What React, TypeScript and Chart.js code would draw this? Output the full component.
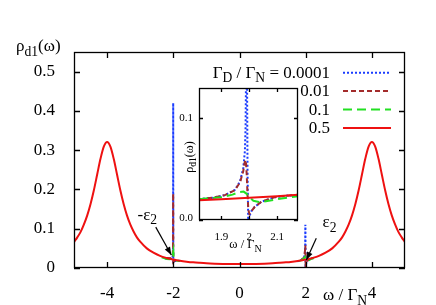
import React, { useEffect, useRef } from 'react';
import { Chart, registerables } from 'chart.js';
Chart.register(...registerables);

const SERIF = '"Liberation Serif", "Times New Roman", serif';

// ---- series styling order: [0.0001, 0.01, 0.1, 0.5]
const SERIES_LABELS = ['0.0001', '0.01', '0.1', '0.5'];
const SERIES_COLORS = ['#1a3cff', '#a32b2b', '#22e022', '#ee1111'];
const SERIES_DASH = [[2, 2], [5, 3], [9, 5], []];

// ---- main plot
const X_TICKS = [-4, -2, 0, 2, 4];
const X_TICK_LABELS = ['-4', '-2', '0', '2', '4'];
const Y_TICKS = [0, 0.1, 0.2, 0.3, 0.4, 0.5];
const Y_TICK_LABELS = ['0', '0.1', '0.2', '0.3', '0.4', '0.5'];

// Γ_D/Γ_N = 0.5 (full curve)
const MAIN_X = [
  -5, -4.9, -4.8, -4.7, -4.6, -4.5, -4.4, -4.3, -4.2, -4.1, -4,
  -3.9, -3.8, -3.7, -3.6, -3.5, -3.4, -3.3, -3.2, -3.1, -3,
  -2.8, -2.6, -2.4, -2.2, -2.1, -2, -1.9, -1.8, -1.6, -1.4, -1.2, -1,
  -0.75, -0.5, -0.25, 0,
  0.25, 0.5, 0.75, 1, 1.2, 1.4, 1.6, 1.8, 1.9, 2, 2.1, 2.2, 2.4, 2.6, 2.8,
  3, 3.1, 3.2, 3.3, 3.4, 3.5, 3.6, 3.7, 3.8, 3.9, 4,
  4.1, 4.2, 4.3, 4.4, 4.5, 4.6, 4.7, 4.8, 4.9, 5,
];
const RED_Y = [
  0.066, 0.078, 0.092, 0.111, 0.134, 0.163, 0.198, 0.238, 0.278, 0.309, 0.321,
  0.309, 0.278, 0.238, 0.198, 0.163, 0.134, 0.111, 0.093, 0.078, 0.067,
  0.050, 0.039, 0.031, 0.0255, 0.0233, 0.0214, 0.0198, 0.0184, 0.0162, 0.0144, 0.0131, 0.012,
  0.0111, 0.0105, 0.0102, 0.0100,
  0.0102, 0.0105, 0.0111, 0.012, 0.0131, 0.0144, 0.0162, 0.0184, 0.0198, 0.0214, 0.0233, 0.0255, 0.031, 0.039, 0.050,
  0.067, 0.078, 0.093, 0.111, 0.134, 0.163, 0.198, 0.238, 0.278, 0.309, 0.321,
  0.309, 0.278, 0.238, 0.198, 0.163, 0.134, 0.111, 0.092, 0.078, 0.066,
];

// other series: only the windows around ±ε2 (elsewhere they lie under the 0.5 curve)
const BLUE_X = [-2.25, -2.1, -2.03, -2.012, -2.006, -2.003, -2.0, -1.995, -1.98, -1.95, -1.85, -1.75, null,
  1.75, 1.85, 1.95, 1.975, 1.985, 1.99, 1.996, 2.005, 2.02, 2.06, 2.15, 2.25];
const BLUE_Y = [0.0245, 0.0235, 0.026, 0.032, 0.06, 0.42, 0.013, 0.014, 0.016, 0.018, 0.0182, 0.0172, null,
  0.017, 0.019, 0.027, 0.035, 0.06, 0.11, 0.0, 0.008, 0.014, 0.019, 0.0233, 0.026];

const DARK_X = [-2.2, -2.06, -2.02, -2.008, -2.004, -2.0, -1.99, -1.95, -1.85, null,
  1.85, 1.95, 1.98, 1.99, 1.998, 2.01, 2.04, 2.1, 2.2];
const DARK_Y = [0.0255, 0.025, 0.03, 0.05, 0.19, 0.015, 0.016, 0.018, 0.019, null,
  0.019, 0.027, 0.045, 0.058, 0.008, 0.012, 0.017, 0.0225, 0.025];

const GREEN_X = [-2.35, -2.2, -2.08, -2.03, -2.01, -2.0, -1.99, -1.96, -1.9, -1.8, null,
  1.8, 1.9, 1.96, 1.98, 2.0, 2.03, 2.08, 2.15, 2.25];
const GREEN_Y = [0.027, 0.023, 0.022, 0.027, 0.036, 0.042, 0.03, 0.021, 0.0185, 0.0175, null,
  0.0175, 0.0215, 0.026, 0.028, 0.022, 0.0175, 0.019, 0.0225, 0.0255];

// ---- inset (around ω = 2)
const IN_X_TICKS = [1.9, 2, 2.1];
const IN_X_TICK_LABELS = ['1.9', '2', '2.1'];
const IN_Y_TICKS = [0, 0.1];
const IN_Y_TICK_LABELS = ['0.0', '0.1'];

const IN_RED_X = [1.82, 1.9, 2.0, 2.1, 2.175];
const IN_RED_Y = [0.0195, 0.0205, 0.0218, 0.0233, 0.0248];

const IN_BLUE_X = [1.82, 1.87, 1.913, 1.949, 1.967, 1.9786, 1.9846, 1.987, 1.9893, 1.9905, 1.992, 1.994,
  1.9964, 1.999, 2.004, 2.0086, 2.02, 2.044, 2.092, 2.13, 2.175];
const IN_BLUE_Y = [0.0205, 0.022, 0.0245, 0.0297, 0.038, 0.051, 0.068, 0.091, 0.16, 0.45, 0.15, 0.05,
  0.0, 0.002, 0.006, 0.009, 0.013, 0.018, 0.0225, 0.0238, 0.0248];

const IN_DARK_X = [1.82, 1.87, 1.913, 1.949, 1.967, 1.9786, 1.984, 1.988, 1.991, 1.994, 1.997, 2.001,
  2.0086, 2.02, 2.044, 2.092, 2.13, 2.175];
const IN_DARK_Y = [0.0205, 0.022, 0.0245, 0.0295, 0.037, 0.048, 0.057, 0.059, 0.045, 0.025, 0.01, 0.006,
  0.009, 0.013, 0.018, 0.0225, 0.0238, 0.0248];

const IN_GREEN_X = [1.82, 1.9, 1.94, 1.965, 1.98, 1.99, 2.0, 2.015, 2.035, 2.06, 2.1, 2.14, 2.175];
const IN_GREEN_Y = [0.0205, 0.0225, 0.025, 0.0275, 0.028, 0.026, 0.0225, 0.019, 0.0178, 0.0185, 0.0205, 0.022, 0.0235];

type Part = [string, boolean];

function fontOf(size: number) {
  return `${size}px ${SERIF}`;
}

function drawRich(ctx: CanvasRenderingContext2D, parts: Part[], x: number, y: number, size: number, align: 'left' | 'right' | 'center') {
  ctx.save();
  ctx.textBaseline = 'alphabetic';
  ctx.textAlign = 'left';
  let w = 0;
  const widths: number[] = [];
  for (const [t, sub] of parts) {
    ctx.font = fontOf(sub ? size * 0.8 : size);
    const m = ctx.measureText(t).width;
    widths.push(m);
    w += m;
  }
  let cx = align === 'right' ? x - w : align === 'center' ? x - w / 2 : x;
  parts.forEach(([t, sub], i) => {
    ctx.font = fontOf(sub ? size * 0.8 : size);
    ctx.fillText(t, cx, sub ? y + size * 0.28 : y);
    cx += widths[i];
  });
  ctx.restore();
}

function arrow(ctx: CanvasRenderingContext2D, x1: number, y1: number, x2: number, y2: number) {
  ctx.save();
  ctx.strokeStyle = '#000';
  ctx.fillStyle = '#000';
  ctx.lineWidth = 1.2;
  ctx.beginPath();
  ctx.moveTo(x1, y1);
  ctx.lineTo(x2, y2);
  ctx.stroke();
  const ang = Math.atan2(y2 - y1, x2 - x1);
  const L = 8, W = 3;
  ctx.beginPath();
  ctx.moveTo(x2, y2);
  ctx.lineTo(x2 - L * Math.cos(ang) + W * Math.sin(ang), y2 - L * Math.sin(ang) - W * Math.cos(ang));
  ctx.lineTo(x2 - L * Math.cos(ang) - W * Math.sin(ang), y2 - L * Math.sin(ang) + W * Math.cos(ang));
  ctx.closePath();
  ctx.fill();
  ctx.restore();
}

const pts = (xs: (number | null)[], ys: (number | null)[]) => xs.map((x, i) => ({ x, y: ys[i] }));

function lineDs(data: any, idx: number, extra: any = {}) {
  return {
    data,
    showLine: true,
    borderColor: SERIES_COLORS[idx],
    backgroundColor: SERIES_COLORS[idx],
    borderDash: SERIES_DASH[idx],
    borderWidth: 2,
    pointRadius: 0,
    tension: 0,
    spanGaps: false,
    ...extra,
  };
}

const mainDecor = {
  id: 'mainDecor',
  afterDatasetsDraw(chart: any) {
    const { ctx, chartArea: a, scales } = chart;
    const x = scales.x, y = scales.y;
    ctx.save();
    ctx.strokeStyle = '#000';
    ctx.lineWidth = 1.3;
    ctx.strokeRect(a.left + 0.5, a.top + 0.5, a.right - a.left - 1, a.bottom - a.top - 1);
    ctx.beginPath();
    for (const v of X_TICKS) {
      const px = Math.round(x.getPixelForValue(v)) + 0.5;
      ctx.moveTo(px, a.bottom); ctx.lineTo(px, a.bottom - 6);
      ctx.moveTo(px, a.top); ctx.lineTo(px, a.top + 6);
    }
    for (const v of Y_TICKS) {
      const py = Math.round(y.getPixelForValue(v)) + 0.5;
      ctx.moveTo(a.left, py); ctx.lineTo(a.left + 6, py);
      ctx.moveTo(a.right, py); ctx.lineTo(a.right - 6, py);
    }
    ctx.stroke();
    ctx.fillStyle = '#000';

    // axis titles
    drawRich(ctx, [['ρ', false], ['d1', true], ['(ω)', false]], 16, 51, 17, 'left');
    drawRich(ctx, [['ω / Γ', false], ['N', true]], 323, 300, 17, 'left');

    // legend
    const rowTop = a.top + 20.7;
    const rowH = 18.4;
    const textRight = a.right - 75;
    SERIES_LABELS.forEach((lab, i) => {
      const yy = rowTop + i * rowH;
      const parts: Part[] = i === 0
        ? [['Γ', false], ['D', true], [' / Γ', false], ['N', true], [' = ' + lab, false]]
        : [[lab, false]];
      drawRich(ctx, parts, textRight, yy + 5, 17, 'right');
      ctx.save();
      ctx.strokeStyle = SERIES_COLORS[i];
      ctx.lineWidth = 2;
      ctx.setLineDash(SERIES_DASH[i]);
      ctx.beginPath();
      ctx.moveTo(a.right - 62, yy);
      ctx.lineTo(a.right - 14, yy);
      ctx.stroke();
      ctx.restore();
    });

    // annotations
    drawRich(ctx, [['-ε', false], ['2', true]], x.getPixelForValue(-2.49), y.getPixelForValue(0.1234), 17, 'right');
    arrow(ctx, x.getPixelForValue(-2.53), y.getPixelForValue(0.104), x.getPixelForValue(-2.06), y.getPixelForValue(0.033));
    drawRich(ctx, [['ε', false], ['2', true]], x.getPixelForValue(2.51), y.getPixelForValue(0.1043), 17, 'left');
    arrow(ctx, x.getPixelForValue(2.32), y.getPixelForValue(0.0756), x.getPixelForValue(2.02), y.getPixelForValue(0.0205));
    ctx.restore();
  },
};

const insetDecor = {
  id: 'insetDecor',
  beforeDatasetsDraw(chart: any) {
    const { ctx, chartArea: a } = chart;
    ctx.save();
    ctx.fillStyle = '#fff';
    ctx.fillRect(a.left, a.top, a.right - a.left, a.bottom - a.top);
    ctx.restore();
  },
  afterDatasetsDraw(chart: any) {
    const { ctx, chartArea: a, scales } = chart;
    const x = scales.x, y = scales.y;
    ctx.save();
    ctx.strokeStyle = '#000';
    ctx.lineWidth = 1.3;
    ctx.strokeRect(a.left + 0.5, a.top + 0.5, a.right - a.left - 1, a.bottom - a.top - 1);
    ctx.beginPath();
    for (const v of IN_X_TICKS) {
      const px = Math.round(x.getPixelForValue(v)) + 0.5;
      ctx.moveTo(px, a.bottom); ctx.lineTo(px, a.bottom - 4);
      ctx.moveTo(px, a.top); ctx.lineTo(px, a.top + 4);
    }
    for (const v of IN_Y_TICKS) {
      const py = Math.round(y.getPixelForValue(v)) + 0.5;
      ctx.moveTo(a.left, py); ctx.lineTo(a.left + 4, py);
      ctx.moveTo(a.right, py); ctx.lineTo(a.right - 4, py);
    }
    ctx.stroke();
    ctx.fillStyle = '#000';
    // y tick labels, placed with the inset's own y scale
    ctx.font = fontOf(11);
    ctx.textAlign = 'right';
    ctx.textBaseline = 'middle';
    IN_Y_TICKS.forEach((v, i) => {
      ctx.fillText(IN_Y_TICK_LABELS[i], a.left - 6, y.getPixelForValue(v) - (v === 0 ? 2 : 0));
    });
    const midX = (a.left + a.right) / 2;
    drawRich(ctx, [['ω / Γ', false], ['N', true]], midX - 3, a.bottom + 28, 12.5, 'center');
    ctx.save();
    ctx.translate(a.left - 10, (a.top + a.bottom) / 2 + 3);
    ctx.rotate(-Math.PI / 2);
    drawRich(ctx, [['ρ', false], ['d1', true], ['(ω)', false]], 0, 4, 12, 'center');
    ctx.restore();
    ctx.restore();
  },
};

export default function App() {
  const mainRef = useRef<HTMLCanvasElement>(null);
  const insetRef = useRef<HTMLCanvasElement>(null);

  useEffect(() => {
    if (!mainRef.current || !insetRef.current) return;
    const tickFont = { family: SERIF, size: 17 };
    const main = new Chart(mainRef.current, {
      type: 'scatter',
      data: {
        datasets: [
          lineDs(pts(MAIN_X, RED_Y), 3, { cubicInterpolationMode: 'monotone' }),
          lineDs(pts(GREEN_X, GREEN_Y), 2),
          lineDs(pts(DARK_X, DARK_Y), 1),
          lineDs(pts(BLUE_X, BLUE_Y), 0),
        ] as any,
      },
      options: {
        responsive: false,
        animation: false,
        events: [],
        layout: { padding: { top: 52, right: 31, left: 0, bottom: 0 } },
        plugins: { legend: { display: false }, tooltip: { enabled: false } },
        scales: {
          x: {
            type: 'linear',
            min: -5,
            max: 5,
            grid: { display: false },
            border: { display: false },
            afterFit: (s: any) => { s.height = 37; },
            afterBuildTicks: (s: any) => { s.ticks = X_TICKS.map((v) => ({ value: v })); },
            ticks: {
              font: tickFont,
              color: '#000',
              padding: 7,
              autoSkip: false,
              maxRotation: 0,
              callback: (_v: any, i: number) => X_TICK_LABELS[i],
            },
          },
          y: {
            type: 'linear',
            min: 0,
            max: 0.55,
            grid: { display: false },
            border: { display: false },
            afterFit: (s: any) => { s.width = 74; },
            afterBuildTicks: (s: any) => { s.ticks = Y_TICKS.map((v) => ({ value: v })); },
            ticks: {
              font: tickFont,
              color: '#000',
              padding: 11,
              autoSkip: false,
              callback: (_v: any, i: number) => Y_TICK_LABELS[i],
            },
          },
        },
      } as any,
      plugins: [mainDecor],
    });

    const inTick = { family: SERIF, size: 11 };
    const inset = new Chart(insetRef.current, {
      type: 'scatter',
      data: {
        datasets: [
          lineDs(pts(IN_RED_X, IN_RED_Y), 3),
          lineDs(pts(IN_GREEN_X, IN_GREEN_Y), 2),
          lineDs(pts(IN_DARK_X, IN_DARK_Y), 1),
          lineDs(pts(IN_BLUE_X, IN_BLUE_Y), 0),
        ] as any,
      },
      options: {
        responsive: false,
        animation: false,
        events: [],
        layout: { padding: { top: 8, right: 7, left: 0, bottom: 0 } },
        plugins: { legend: { display: false }, tooltip: { enabled: false } },
        scales: {
          x: {
            type: 'linear',
            min: 1.82,
            max: 2.175,
            grid: { display: false },
            border: { display: false },
            afterFit: (s: any) => { s.height = 35; },
            afterBuildTicks: (s: any) => { s.ticks = IN_X_TICKS.map((v) => ({ value: v })); },
            ticks: {
              font: inTick,
              color: '#000',
              padding: 3,
              autoSkip: false,
              maxRotation: 0,
              callback: (_v: any, i: number) => IN_X_TICK_LABELS[i],
            },
          },
          y: {
            type: 'linear',
            min: 0,
            max: 0.13,
            grid: { display: false },
            border: { display: false },
            afterFit: (s: any) => { s.width = 39; },
            afterBuildTicks: (s: any) => { s.ticks = IN_Y_TICKS.map((v) => ({ value: v })); },
            ticks: { display: false },
          },
        },
      } as any,
      plugins: [insetDecor],
    });

    return () => {
      main.destroy();
      inset.destroy();
    };
  }, []);

  return (
    <div style={{ position: 'absolute', left: 0, top: 0, width: 436, height: 305, background: '#fff' }}>
      <canvas ref={mainRef} width={436} height={305} style={{ position: 'absolute', left: 0, top: 0, width: 436, height: 305 }} />
      <canvas ref={insetRef} width={145} height={175} style={{ position: 'absolute', left: 160, top: 80, width: 145, height: 175 }} />
    </div>
  );
}
